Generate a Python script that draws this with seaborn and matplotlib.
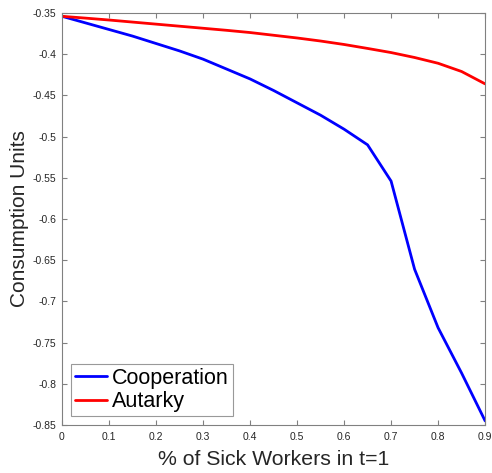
import matplotlib
matplotlib.use("Agg")
import matplotlib.pyplot as plt
import numpy as np
import pandas as pd
import seaborn as sns

# Share of sick workers in period t=1
sick_share = [0.00, 0.05, 0.10, 0.15, 0.20, 0.25, 0.30, 0.35, 0.40, 0.45,
              0.50, 0.55, 0.60, 0.65, 0.70, 0.75, 0.80, 0.85, 0.90]

# Welfare in consumption units under each regime
cooperation = [-0.354, -0.362, -0.370, -0.378, -0.387, -0.396, -0.406, -0.418, -0.430, -0.444,
               -0.459, -0.474, -0.491, -0.510, -0.554, -0.661, -0.732, -0.787, -0.845]
autarky = [-0.354, -0.3562, -0.3585, -0.361, -0.3635, -0.366, -0.3685, -0.371, -0.3737, -0.377,
           -0.3803, -0.384, -0.3882, -0.393, -0.398, -0.404, -0.411, -0.421, -0.436]

series_names = ["Cooperation", "Autarky"]
series_colors = ["#0000ff", "#ff0000"]

x_ticks = [0, 0.1, 0.2, 0.3, 0.4, 0.5, 0.6, 0.7, 0.8, 0.9]
x_tick_labels = ["0", "0.1", "0.2", "0.3", "0.4", "0.5", "0.6", "0.7", "0.8", "0.9"]
y_ticks = [-0.85, -0.8, -0.75, -0.7, -0.65, -0.6, -0.55, -0.5, -0.45, -0.4, -0.35]
y_tick_labels = ["-0.85", "-0.8", "-0.75", "-0.7", "-0.65", "-0.6", "-0.55", "-0.5", "-0.45", "-0.4", "-0.35"]

df = pd.DataFrame({
    "share": sick_share * 2,
    "value": cooperation + autarky,
    "scenario": [series_names[0]] * len(sick_share) + [series_names[1]] * len(sick_share),
})

sns.set_style("ticks")
plt.rcParams["font.family"] = ["Liberation Sans", "DejaVu Sans"]

text_color = "#262626"
frame_color = "#808080"

fig = plt.figure(figsize=(4.92, 4.73), dpi=100)
ax = fig.add_axes([0.126, 0.1015, 0.860, 0.871])

sns.lineplot(data=df, x="share", y="value", hue="scenario",
             palette=dict(zip(series_names, series_colors)),
             linewidth=2.0, ax=ax, legend=True)

ax.set_xlim(0, 0.9)
ax.set_ylim(-0.85, -0.35)
ax.set_xticks(x_ticks)
ax.set_xticklabels(x_tick_labels)
ax.set_yticks(y_ticks)
ax.set_yticklabels(y_tick_labels)

ax.tick_params(direction="in", length=3.5, width=0.8, color=frame_color,
               labelsize=7.5, labelcolor=text_color, top=True, right=True)
ax.tick_params(axis="x", pad=5)
ax.tick_params(axis="y", pad=4)
for side in ["left", "right", "top", "bottom"]:
    ax.spines[side].set_visible(True)
    ax.spines[side].set_color(frame_color)
    ax.spines[side].set_linewidth(0.8)

ax.set_xlabel("% of Sick Workers in t=1", fontsize=15.3, color=text_color, labelpad=5.5)
ax.set_ylabel("Consumption Units", fontsize=15, color=text_color, labelpad=2.5)

leg = ax.legend(loc="lower left", fontsize=15.5, frameon=True, fancybox=False,
                handlelength=1.5, handletextpad=0.2, borderpad=0.2,
                labelspacing=0.1, borderaxespad=0.4, edgecolor=frame_color)
leg.get_frame().set_linewidth(0.8)
for t in leg.get_texts():
    t.set_color("black")
for line in leg.get_lines():
    line.set_linewidth(2.0)

fig.savefig("out.png", dpi=100, facecolor="white")
